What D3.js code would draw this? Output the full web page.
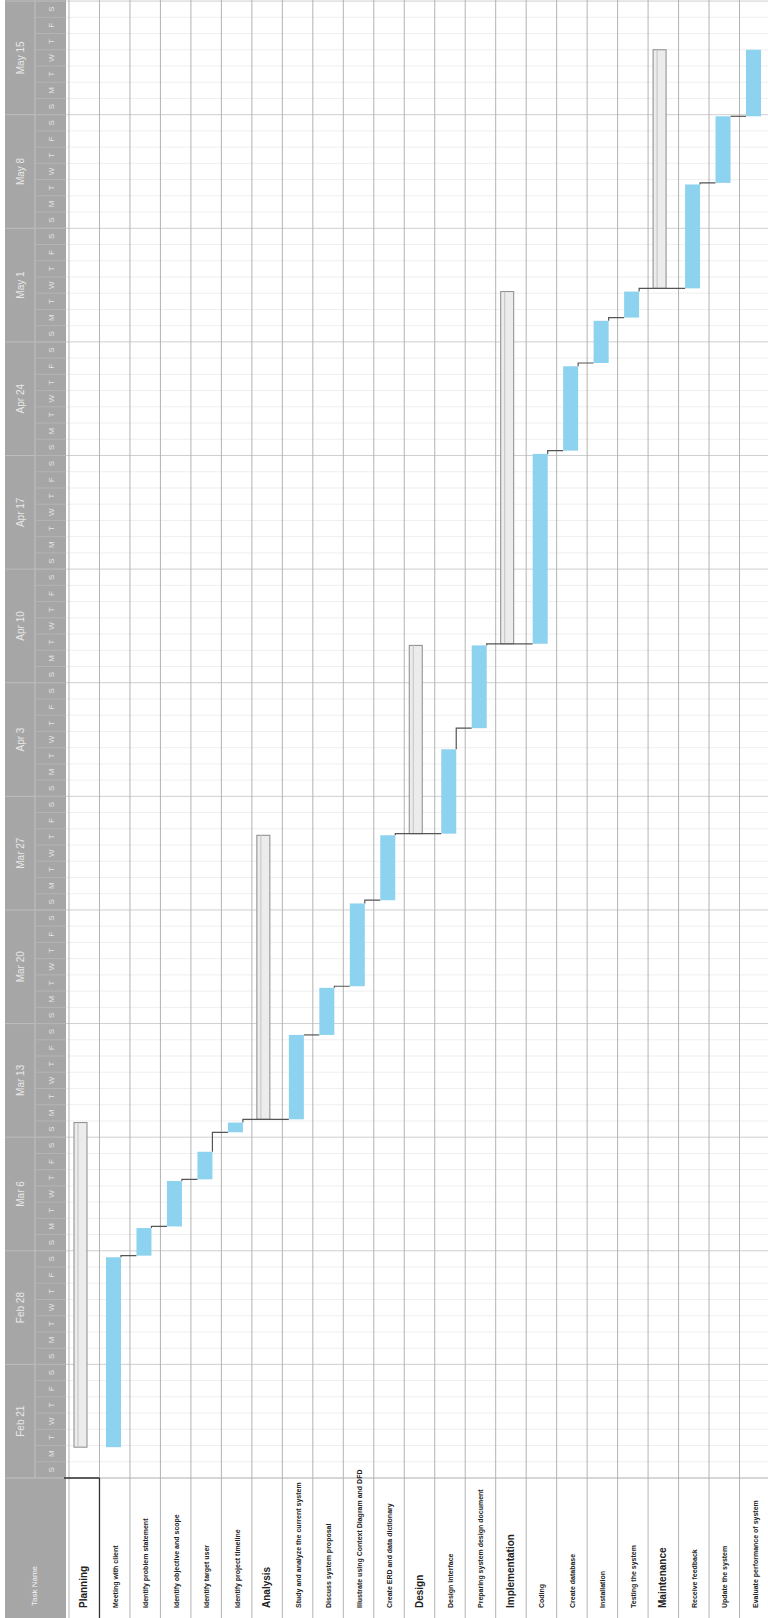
<!DOCTYPE html>
<html>
<head>
<meta charset="utf-8">
<script src="https://cdn.jsdelivr.net/npm/d3@7"></script>
<style>
  body { margin: 0; background: #fff; }
  svg { display: block; }
</style>
</head>
<body>
<svg id="gantt" width="768" height="1618"></svg>
<script>
// task list, time runs bottom -> top (page is a rotated gantt)
const tasks = [
  "Planning", "Meeting with client", "Identify problem statement", "Identify objective and scope",
  "Identify target user", "Identify project timeline", "Analysis", "Study and analyze the current system",
  "Discuss system proposal", "Illustrate using Context Diagram and DFD", "Create ERD and data dictionary",
  "Design", "Design interface", "Preparing system design document", "Implementation", "Coding",
  "Create database", "Installation", "Testing the system", "Maintenance", "Receive feedback",
  "Update the system", "Evaluate performance of system"
];
const isSummary = [1,0,0,0,0,0,1,0,0,0,0,1,0,0,1,0,0,0,0,1,0,0,0];
// day offsets from project week 1
const startDay = [1.9, 1.9, 13.7, 15.5, 18.4, 21.3, 22.1, 22.1, 27.3, 30.3, 35.6, 39.7, 39.7, 46.2, 51.4, 51.4, 63.3, 68.7, 71.5, 73.3, 73.3, 79.8, 83.9];
const endDay   = [21.9, 13.6, 15.4, 18.3, 20.1, 21.9, 39.6, 27.3, 30.2, 35.4, 39.6, 51.3, 44.9, 51.3, 73.1, 63.1, 68.5, 71.3, 73.1, 88.0, 79.7, 83.9, 88.0];
const links = [[1,2],[2,3],[3,4],[4,5],[5,7],[7,8],[8,9],[9,10],[10,12],[12,13],[13,15],[15,16],[16,17],[17,18],[18,20],[20,21],[21,22]];
const weekLabels = ["Feb 21","Feb 28","Mar 6","Mar 13","Mar 20","Mar 27","Apr 3","Apr 10","Apr 17","Apr 24","May 1","May 8","May 15"];
const dayLetters = ["S","M","T","W","T","F","S"];

const W = 768, H = 1618;
const baseY = 1478, pxDay = 16.23, nDays = 91;
const font = "Liberation Sans Narrow, Liberation Sans, sans-serif";

const svg = d3.select("#gantt");
const x = d3.scaleBand().domain(d3.range(tasks.length)).range([69, 770]);
const y = d3.scaleLinear().domain([0, nDays]).range([baseY, baseY - nDays * pxDay]);
const bw = x.bandwidth();

// day + week gridlines
svg.append("g").selectAll("line")
  .data(d3.range(1, nDays + 1))
  .join("line")
  .attr("x1", 66).attr("x2", W)
  .attr("y1", d => y(d)).attr("y2", d => y(d))
  .attr("stroke", d => d % 7 === 0 ? "#cfcfcf" : "#efefef")
  .attr("stroke-width", 1);

svg.append("line")
  .attr("x1", 66).attr("x2", W).attr("y1", baseY).attr("y2", baseY)
  .attr("stroke", "#b0b0b0");

// column lines
svg.append("g").selectAll("line")
  .data(d3.range(tasks.length + 1))
  .join("line")
  .attr("x1", d => x(d) !== undefined ? x(d) : 770)
  .attr("x2", d => x(d) !== undefined ? x(d) : 770)
  .attr("y1", 0).attr("y2", H)
  .attr("stroke", "#b3b3b3")
  .attr("stroke-width", 1);

// header (time scale) on the left
const hdr = svg.append("g");
hdr.append("rect").attr("x", 5).attr("y", 0).attr("width", 61).attr("height", H).attr("fill", "#a6a6a6");
hdr.append("line").attr("x1", 35).attr("x2", 35).attr("y1", 0).attr("y2", baseY)
  .attr("stroke", "#c2c2c2");
hdr.append("line").attr("x1", 5).attr("x2", 66).attr("y1", baseY).attr("y2", baseY)
  .attr("stroke", "#c2c2c2");

hdr.selectAll(".wk")
  .data(d3.range(1, 14))
  .join("line")
  .attr("class", "wk")
  .attr("x1", 5).attr("x2", 66)
  .attr("y1", d => y(d * 7)).attr("y2", d => y(d * 7))
  .attr("stroke", "#bdbdbd");

hdr.selectAll(".dy")
  .data(d3.range(1, nDays + 1))
  .join("line")
  .attr("class", "dy")
  .attr("x1", 35).attr("x2", 66)
  .attr("y1", d => y(d)).attr("y2", d => y(d))
  .attr("stroke", "#b4b4b4");

hdr.selectAll(".wklab")
  .data(weekLabels)
  .join("text")
  .attr("class", "wklab")
  .attr("transform", (d, i) => `translate(24,${y(i * 7 + 3.5)}) rotate(-90)`)
  .attr("text-anchor", "middle")
  .attr("font-family", font)
  .attr("font-size", 10)
  .attr("fill", "#e8e8e8")
  .text(d => d);

hdr.selectAll(".dylab")
  .data(d3.range(nDays))
  .join("text")
  .attr("class", "dylab")
  .attr("transform", d => `translate(54,${y(d + 0.5)}) rotate(-90)`)
  .attr("text-anchor", "middle")
  .attr("font-family", font)
  .attr("font-size", 8)
  .attr("fill", "#e4e4e4")
  .text(d => dayLetters[d % 7]);

hdr.append("text")
  .attr("transform", "translate(37,1606) rotate(-90)")
  .attr("font-family", font)
  .attr("font-size", 8)
  .attr("fill", "#f4f4f4")
  .text("Task Name");

// dark edge at the first row of the task table
svg.append("line").attr("x1", 64).attr("x2", x(1)).attr("y1", baseY).attr("y2", baseY)
  .attr("stroke", "#333").attr("stroke-width", 1.3);
svg.append("line").attr("x1", x(1)).attr("x2", x(1)).attr("y1", baseY).attr("y2", H)
  .attr("stroke", "#333").attr("stroke-width", 1.3);

// summary bars
const idx = d3.range(tasks.length);
svg.append("g").selectAll("rect")
  .data(idx.filter(i => isSummary[i]))
  .join("rect")
  .attr("x", i => x(i) + 5)
  .attr("width", 13)
  .attr("y", i => y(endDay[i]))
  .attr("height", i => y(startDay[i]) - y(endDay[i]))
  .attr("fill", "#ececec")
  .attr("stroke", "#8a8a8a")
  .attr("stroke-width", 1);

svg.append("g").selectAll("line")
  .data(idx.filter(i => isSummary[i]))
  .join("line")
  .attr("x1", i => x(i) + 9).attr("x2", i => x(i) + 9)
  .attr("y1", i => y(endDay[i])).attr("y2", i => y(startDay[i]))
  .attr("stroke", "#c2c2c2");

// links
svg.append("g").selectAll("path")
  .data(links)
  .join("path")
  .attr("d", ([a, b]) => {
    const x0 = x(a) + 6.5 + 15, y0 = y(endDay[a]);
    const y1 = y(startDay[b]), x1 = x(b) + 6.5;
    return `M${x0},${y0}V${y1}H${x1}`;
  })
  .attr("fill", "none")
  .attr("stroke", "#555")
  .attr("stroke-width", 1.2);

// task bars
svg.append("g").selectAll("rect")
  .data(idx.filter(i => !isSummary[i]))
  .join("rect")
  .attr("x", i => x(i) + 6.5)
  .attr("width", 15)
  .attr("y", i => y(endDay[i]))
  .attr("height", i => y(startDay[i]) - y(endDay[i]))
  .attr("fill", "#8dd2ee");

// task names
svg.append("g").selectAll("text")
  .data(idx)
  .join("text")
  .attr("transform", i => `translate(${x(i) + bw / 2 + 3},1608) rotate(-90)`)
  .attr("font-family", font)
  .attr("font-size", i => isSummary[i] ? 10 : 7)
  .attr("font-weight", "bold")
  .attr("fill", "#222")
  .text(i => tasks[i]);
</script>
</body>
</html>
